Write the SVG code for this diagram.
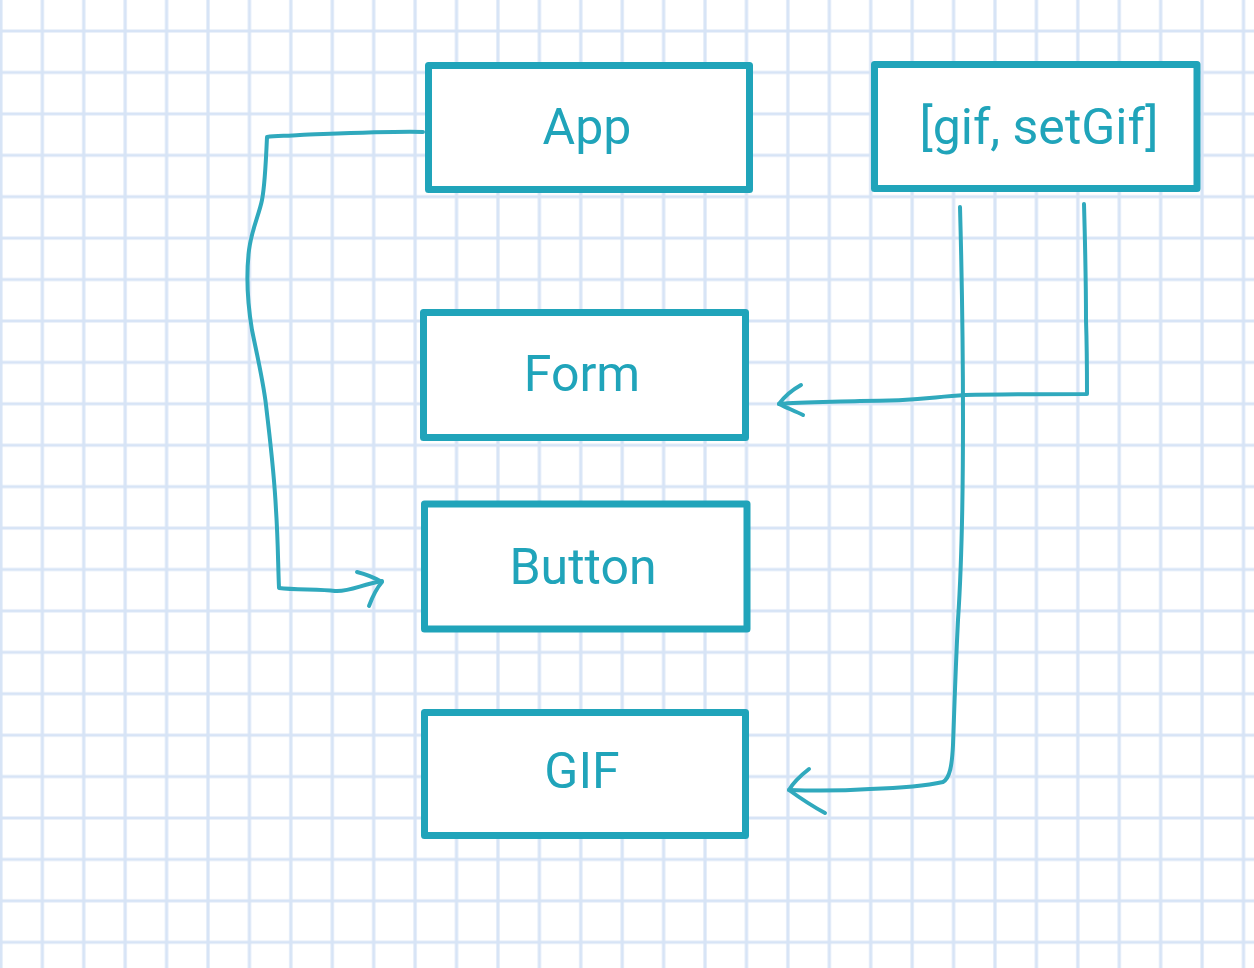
<svg xmlns="http://www.w3.org/2000/svg" width="1254" height="968" viewBox="0 0 1254 968">
<defs>
<pattern id="grid" x="-19.8" y="-31.1" width="41.42" height="41.42" patternUnits="userSpaceOnUse">
<path d="M20.71 0 V41.42 M0 20.71 H41.42" fill="none" stroke="#d7e4f6" stroke-width="3.2"/>
</pattern>
</defs>
<style>
.box{fill:#ffffff;stroke:#20a4ba;stroke-width:7;stroke-linejoin:round}
.lbl{font-family:Roboto,"Liberation Sans",sans-serif;font-size:50px;fill:#20a4ba;text-anchor:middle;dominant-baseline:central}
.wire{fill:none;stroke:#30a9bd;stroke-width:4;stroke-linecap:round;stroke-linejoin:round}
</style>
<rect width="1254" height="968" fill="#ffffff"/>
<rect width="1254" height="968" fill="url(#grid)"/>
<g id="connectors">
<path class="wire" d="M423 132 C390 131 330 134 300 135 C285 136 275 136 267 137 C266 160 265 185 262 200 C259 215 252 228 249 250 C246 275 247 300 252 330 C257 355 263 380 266 405 C270 440 274 470 276 510 C278 540 278 565 279 588 C295 590 320 589 335 591 C350 592 360 585 382 581"/>
<path class="wire" d="M357 572 C365 574 375 578 382 582 C375 590 372 598 369 606"/>
<path class="wire" d="M1084 204 C1085 240 1086 280 1086 320 C1087 350 1087 375 1087 394 C1050 394 1000 394 965 395 C930 397 920 401 860 401 C830 402 800 402 779 404"/>
<path class="wire" d="M801 385 C792 390 784 397 779 404 C787 408 795 411 803 415"/>
<path class="wire" d="M960 207 C962 280 963 350 963 420 C963 500 962 560 958 620 C955 680 954 720 953 745 C952 765 950 778 943 782 C925 786 900 788 870 789 C840 791 815 791 789 790"/>
<path class="wire" d="M809 769 C800 776 793 783 789 790 C800 798 812 806 825 813"/>
</g>
<g id="app">
<rect class="box" x="428.5" y="65.5" width="321" height="124"/>
<text class="lbl" x="587" y="127">App</text>
</g>
<g id="state">
<rect class="box" x="874.5" y="64.5" width="322.5" height="124"/>
<text class="lbl" x="1039" y="127">[gif, setGif]</text>
</g>
<g id="form">
<rect class="box" x="423.5" y="312.5" width="322" height="125"/>
<text class="lbl" x="582" y="374">Form</text>
</g>
<g id="button">
<rect class="box" x="424.5" y="504" width="322.5" height="125"/>
<text class="lbl" x="583" y="567">Button</text>
</g>
<g id="gif">
<rect class="box" x="424.5" y="712.5" width="321" height="123"/>
<text class="lbl" x="582" y="771">GIF</text>
</g>
</svg>
